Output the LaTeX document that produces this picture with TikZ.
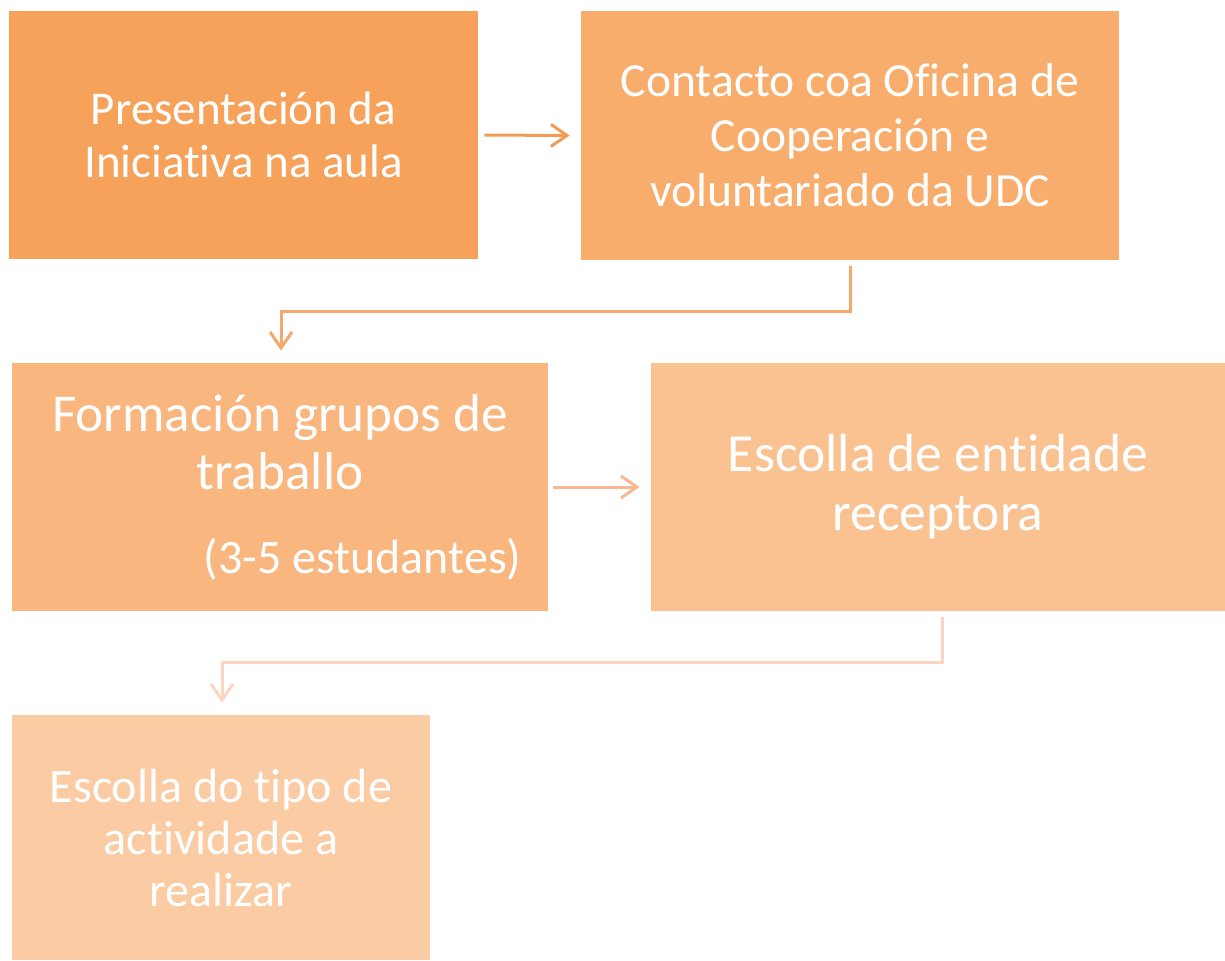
\documentclass[tikz,border=0pt]{standalone}
\usepackage{fontspec}
\setmainfont{Carlito}[Ligatures=NoCommon]
\usetikzlibrary{arrows.meta,calc}
\definecolor{c1}{HTML}{F7A25A}
\definecolor{c2}{HTML}{F8AD6D}
\definecolor{c3}{HTML}{F9B67F}
\definecolor{c4}{HTML}{FAC291}
\definecolor{c5}{HTML}{FBCBA4}
\definecolor{a1}{HTML}{F29B52}
\definecolor{a2}{HTML}{F4A86C}
\definecolor{a3}{HTML}{F7B892}
\definecolor{a4}{HTML}{FBD5C2}
\tikzset{
  box/.style={rectangle, inner sep=0pt, text=white, align=center, draw=none},
  conn/.style={line width=1.5pt, -{Straight Barb[length=8pt,width=11pt,line width=1.5pt]}},
}
\begin{document}
\begin{tikzpicture}[x=0.5pt,y=-0.5pt]
\useasboundingbox (0,0) rectangle (1225,960);
\node[box, fill=c1, minimum width=234.5pt, minimum height=124pt,
  font=\fontsize{23.5}{26.5}\selectfont] (b1) at (243.5,135)
  {Presentación da\\Iniciativa na aula};
\node[box, fill=c2, minimum width=269pt, minimum height=124.5pt,
  font=\fontsize{23.8}{27.5}\selectfont] (b2) at (850,135.5)
  {Contacto coa Oficina de\\Cooperación e\\voluntariado da UDC};
\node[box, fill=c3, minimum width=268pt, minimum height=124pt,
  font=\fontsize{26.6}{29}\selectfont] (b3) at (280,487)
  {Formación grupos de\\traballo\\[13pt]\hspace*{82.5pt}{\fontsize{24}{29}\selectfont(3-5 estudantes)}};
\node[box, fill=c4, minimum width=287pt, minimum height=124pt,
  font=\fontsize{26.8}{29.5}\selectfont] (b4) at (938,487)
  {Escolla de entidade\\receptora};
\node[box, fill=c5, minimum width=209pt, minimum height=122.5pt,
  font=\fontsize{24}{26}\selectfont] (b5) at (221,837.5)
  {Escolla do tipo de\\actividade a\\realizar};
\draw[conn, a1] ([xshift=3pt]b1.east) -- ([xshift=-5.5pt]b2.west);
\draw[conn, a2] ([yshift=-3pt]b2.south) -- ++(0,45) -| ([xshift=0.5pt,yshift=6pt]b3.north);
\draw[conn, a3] ([xshift=2.5pt]b3.east) -- ([xshift=-5.5pt]b4.west);
\draw[conn, a4] ([xshift=2pt,yshift=-3pt]b4.south) -- ++(0,45) -| ([xshift=0.5pt,yshift=6pt]b5.north);
\end{tikzpicture}
\end{document}
